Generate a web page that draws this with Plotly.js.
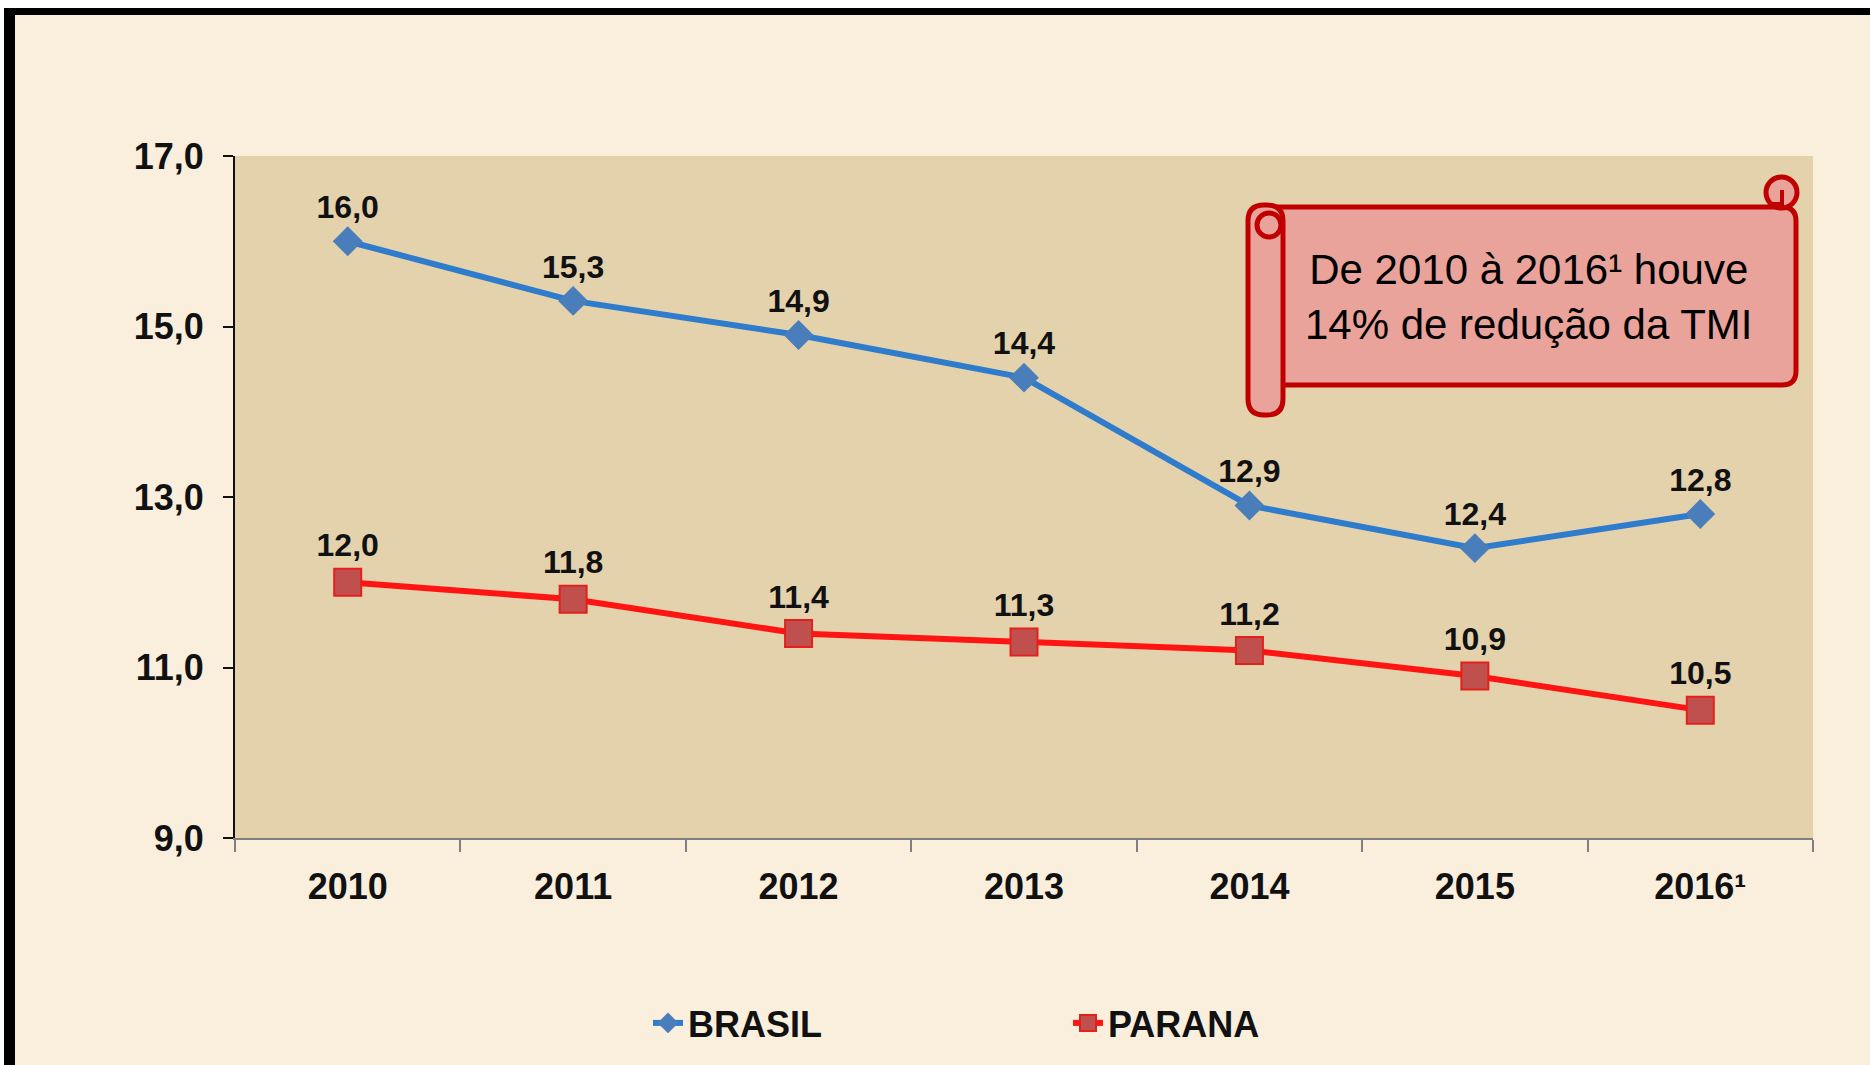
<!DOCTYPE html>
<html>
<head>
<meta charset="utf-8">
<script src="https://cdn.plot.ly/plotly-3.0.1.min.js"></script>
<style>html,body{margin:0;padding:0;background:#ffffff;}#chart{width:1870px;height:1065px;}</style>
</head>
<body>
<div id="chart"></div>
<script>
// ---- data ----
const years = ['2010', '2011', '2012', '2013', '2014', '2015', '2016¹'];
const brasil = [16.0, 15.3, 14.9, 14.4, 12.9, 12.4, 12.8];
const parana = [12.0, 11.8, 11.4, 11.3, 11.2, 10.9, 10.5];
const seriesNames = ['BRASIL', 'PARANA'];
const noteText = 'De 2010 à 2016¹ houve<br>14% de redução da TMI';

// ---- geometry helpers (pixel -> paper) ----
const W = 1870, H = 1065, L = 235, R = 1813, T = 156, B = 838;
const X = p => (p - L) / (R - L);
const Y = p => (B - p) / (B - T);
function rrect(x0, y0, x1, y1, r) {
  return `M${X(x0 + r)},${Y(y0)} L${X(x1 - r)},${Y(y0)} Q${X(x1)},${Y(y0)} ${X(x1)},${Y(y0 + r)} ` +
         `L${X(x1)},${Y(y1 - r)} Q${X(x1)},${Y(y1)} ${X(x1 - r)},${Y(y1)} ` +
         `L${X(x0 + r)},${Y(y1)} Q${X(x0)},${Y(y1)} ${X(x0)},${Y(y1 - r)} ` +
         `L${X(x0)},${Y(y0 + r)} Q${X(x0)},${Y(y0)} ${X(x0 + r)},${Y(y0)} Z`;
}
const fmt = v => v.toFixed(1).replace('.', ',');

const FONT = '"Liberation Sans", Arial, sans-serif';
const scrollFill = '#e9a39a';
const scrollLine = '#c00000';

const traces = [
  {
    x: years, y: brasil, name: seriesNames[0], type: 'scatter',
    mode: 'lines+markers+text',
    line: {color: '#2f7bcc', width: 6},
    marker: {symbol: 'diamond', size: 23, color: '#4a7ebb', line: {width: 0}},
    text: brasil.map(fmt), textposition: 'top center',
    textfont: {family: FONT, size: 32, color: '#111111', weight: 'bold'},
    cliponaxis: false, hoverinfo: 'skip'
  },
  {
    x: years, y: parana, name: seriesNames[1], type: 'scatter',
    mode: 'lines+markers+text',
    line: {color: '#ff1414', width: 6},
    marker: {symbol: 'square', size: 27, color: '#c0504d', line: {color: '#e3201c', width: 2}},
    text: parana.map(fmt), textposition: 'top center',
    textfont: {family: FONT, size: 32, color: '#111111', weight: 'bold'},
    cliponaxis: false, hoverinfo: 'skip'
  }
];

const shapes = [
  // outside white strips + black frame
  {type: 'rect', xref: 'paper', yref: 'paper', x0: X(0), x1: X(W), y0: Y(0), y1: Y(8), fillcolor: '#ffffff', line: {width: 0}},
  {type: 'rect', xref: 'paper', yref: 'paper', x0: X(0), x1: X(4), y0: Y(0), y1: Y(H), fillcolor: '#ffffff', line: {width: 0}},
  {type: 'rect', xref: 'paper', yref: 'paper', x0: X(4), x1: X(W), y0: Y(8), y1: Y(15), fillcolor: '#000000', line: {width: 0}},
  {type: 'rect', xref: 'paper', yref: 'paper', x0: X(4), x1: X(15), y0: Y(8), y1: Y(H), fillcolor: '#000000', line: {width: 0}},
  // scroll: main band
  {type: 'path', xref: 'paper', yref: 'paper', path: rrect(1250, 207, 1796, 385, 14), fillcolor: scrollFill, line: {color: scrollLine, width: 5}},
  // top-right curl
  {type: 'circle', xref: 'paper', yref: 'paper', x0: X(1766), x1: X(1797), y0: Y(177), y1: Y(208), fillcolor: scrollFill, line: {color: scrollLine, width: 5}},
  {type: 'path', xref: 'paper', yref: 'paper', path: `M${X(1782)},${Y(190)} L${X(1782)},${Y(204)} L${X(1768)},${Y(204)}`, line: {color: scrollLine, width: 4}},
  // left roll
  {type: 'path', xref: 'paper', yref: 'paper', path: rrect(1248, 205, 1283, 415, 16), fillcolor: scrollFill, line: {color: scrollLine, width: 5}},
  // top-left curl
  {type: 'circle', xref: 'paper', yref: 'paper', x0: X(1257), x1: X(1281), y0: Y(213), y1: Y(237), fillcolor: 'rgba(0,0,0,0)', line: {color: scrollLine, width: 5}}
];

const layout = {
  width: W, height: H,
  margin: {l: L, r: W - R, t: T, b: H - B, pad: 0},
  paper_bgcolor: '#f9efdc',
  plot_bgcolor: '#e4d2ad',
  separators: ',.',
  font: {family: FONT, color: '#111111'},
  showlegend: true,
  legend: {
    orientation: 'h', x: X(648), xanchor: 'left', y: Y(1023), yanchor: 'middle',
    font: {family: FONT, size: 36, color: '#111111', weight: 'bold'},
    bgcolor: 'rgba(0,0,0,0)', entrywidth: 375, entrywidthmode: 'pixels', traceorder: 'normal'
  },
  xaxis: {
    type: 'category', range: [-0.5, 6.5], tickson: 'boundaries',
    ticks: 'outside', ticklen: 12, tickwidth: 2, tickcolor: '#808080',
    showline: true, linecolor: '#808080', linewidth: 2, showgrid: false, zeroline: false,
    tickfont: {family: FONT, size: 36, color: '#111111', weight: 'bold'},
    ticklabelstandoff: 16, fixedrange: true
  },
  yaxis: {
    range: [9, 17], tick0: 9, dtick: 2, tickformat: '.1f',
    ticks: 'outside', ticklen: 10, tickwidth: 2, tickcolor: '#111111',
    showline: true, linecolor: '#111111', linewidth: 2, showgrid: false, zeroline: false,
    tickfont: {family: FONT, size: 36, color: '#111111', weight: 'bold'},
    ticklabelstandoff: 12, fixedrange: true
  },
  shapes: shapes,
  annotations: [{
    xref: 'paper', yref: 'paper', x: X(1529), y: Y(297), xanchor: 'center', yanchor: 'middle',
    text: noteText, showarrow: false, align: 'center',
    font: {family: FONT, size: 42, color: '#000000'}
  }]
};

Plotly.newPlot('chart', traces, layout, {displayModeBar: false, staticPlot: true});
</script>
</body>
</html>
